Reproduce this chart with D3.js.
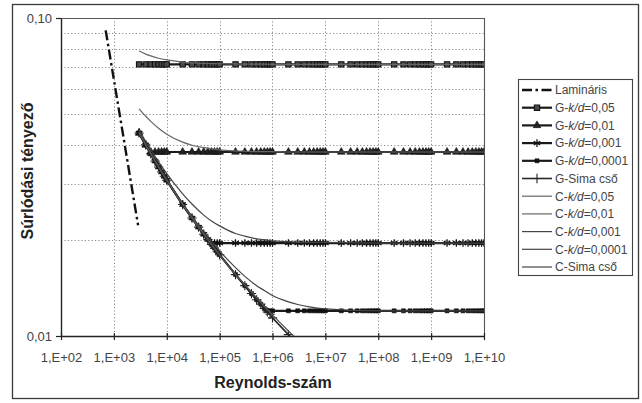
<!DOCTYPE html>
<html>
<head>
<meta charset="utf-8">
<script src="https://cdn.jsdelivr.net/npm/d3@7"></script>
<style>
  body { margin: 0; background: #fff; }
  text { font-family: Arial, "Liberation Sans", sans-serif; }
</style>
</head>
<body>
<svg id="chart" width="642" height="403"></svg>
<script>
// ---- axes ----
const reTicks = [1e2, 1e3, 1e4, 1e5, 1e6, 1e7, 1e8, 1e9, 1e10];
const reTickLabels = ["1,E+02", "1,E+03", "1,E+04", "1,E+05", "1,E+06", "1,E+07", "1,E+08", "1,E+09", "1,E+10"];
const fTicks = [0.01, 0.1];
const fTickLabels = ["0,01", "0,10"];
const fGrid = [0.02, 0.03, 0.04, 0.05, 0.06, 0.07, 0.08, 0.09];

// ---- laminar flow, f = 64/Re ----
const laminarRe = [700, 1000, 1500, 2000, 2500, 2870];
const laminarF  = [0.0914, 0.0640, 0.0427, 0.0320, 0.0256, 0.0223];

// ---- G series: Reynolds numbers 1..9 x 10^n ----
const gRe = [
  3e3, 4e3, 5e3, 6e3, 7e3, 8e3, 9e3,
  1e4, 2e4, 3e4, 4e4, 5e4, 6e4, 7e4, 8e4, 9e4,
  1e5, 2e5, 3e5, 4e5, 5e5, 6e5, 7e5, 8e5, 9e5,
  1e6, 2e6, 3e6, 4e6, 5e6, 6e6, 7e6, 8e6, 9e6,
  1e7, 2e7, 3e7, 4e7, 5e7, 6e7, 7e7, 8e7, 9e7,
  1e8, 2e8, 3e8, 4e8, 5e8, 6e8, 7e8, 8e8, 9e8,
  1e9, 2e9, 3e9, 4e9, 5e9, 6e9, 7e9, 8e9, 9e9,
  1e10
];
const gKd005 = [
  0.0715, 0.0715, 0.0715, 0.0715, 0.0715, 0.0715, 0.0715,
  0.0715, 0.0715, 0.0715, 0.0715, 0.0715, 0.0715, 0.0715, 0.0715, 0.0715,
  0.0715, 0.0715, 0.0715, 0.0715, 0.0715, 0.0715, 0.0715, 0.0715, 0.0715,
  0.0715, 0.0715, 0.0715, 0.0715, 0.0715, 0.0715, 0.0715, 0.0715, 0.0715,
  0.0715, 0.0715, 0.0715, 0.0715, 0.0715, 0.0715, 0.0715, 0.0715, 0.0715,
  0.0715, 0.0715, 0.0715, 0.0715, 0.0715, 0.0715, 0.0715, 0.0715, 0.0715,
  0.0715, 0.0715, 0.0715, 0.0715, 0.0715, 0.0715, 0.0715, 0.0715, 0.0715,
  0.0715
];
const gKd001 = [
  0.0435, 0.0399, 0.0379, 0.0379, 0.0379, 0.0379, 0.0379,
  0.0379, 0.0379, 0.0379, 0.0379, 0.0379, 0.0379, 0.0379, 0.0379, 0.0379,
  0.0379, 0.0379, 0.0379, 0.0379, 0.0379, 0.0379, 0.0379, 0.0379, 0.0379,
  0.0379, 0.0379, 0.0379, 0.0379, 0.0379, 0.0379, 0.0379, 0.0379, 0.0379,
  0.0379, 0.0379, 0.0379, 0.0379, 0.0379, 0.0379, 0.0379, 0.0379, 0.0379,
  0.0379, 0.0379, 0.0379, 0.0379, 0.0379, 0.0379, 0.0379, 0.0379, 0.0379,
  0.0379, 0.0379, 0.0379, 0.0379, 0.0379, 0.0379, 0.0379, 0.0379, 0.0379,
  0.0379
];
const gKd0001 = [
  0.0435, 0.0399, 0.0374, 0.0355, 0.0340, 0.0328, 0.0318,
  0.0309, 0.0259, 0.0235, 0.0220, 0.0209, 0.0201, 0.0196, 0.0196, 0.0196,
  0.0196, 0.0196, 0.0196, 0.0196, 0.0196, 0.0196, 0.0196, 0.0196, 0.0196,
  0.0196, 0.0196, 0.0196, 0.0196, 0.0196, 0.0196, 0.0196, 0.0196, 0.0196,
  0.0196, 0.0196, 0.0196, 0.0196, 0.0196, 0.0196, 0.0196, 0.0196, 0.0196,
  0.0196, 0.0196, 0.0196, 0.0196, 0.0196, 0.0196, 0.0196, 0.0196, 0.0196,
  0.0196, 0.0196, 0.0196, 0.0196, 0.0196, 0.0196, 0.0196, 0.0196, 0.0196,
  0.0196
];
const gKd00001 = [
  0.0435, 0.0399, 0.0374, 0.0355, 0.0340, 0.0328, 0.0318,
  0.0309, 0.0259, 0.0235, 0.0220, 0.0209, 0.0201, 0.0194, 0.0189, 0.0184,
  0.0180, 0.0156, 0.0144, 0.0136, 0.0130, 0.0126, 0.0122, 0.0120, 0.0120,
  0.0120, 0.0120, 0.0120, 0.0120, 0.0120, 0.0120, 0.0120, 0.0120, 0.0120,
  0.0120, 0.0120, 0.0120, 0.0120, 0.0120, 0.0120, 0.0120, 0.0120, 0.0120,
  0.0120, 0.0120, 0.0120, 0.0120, 0.0120, 0.0120, 0.0120, 0.0120, 0.0120,
  0.0120, 0.0120, 0.0120, 0.0120, 0.0120, 0.0120, 0.0120, 0.0120, 0.0120,
  0.0120
];
const gSmooth = [
  0.0435, 0.0399, 0.0374, 0.0355, 0.0340, 0.0328, 0.0318,
  0.0309, 0.0259, 0.0235, 0.0220, 0.0209, 0.0201, 0.0194, 0.0189, 0.0184,
  0.0180, 0.0156, 0.0144, 0.0136, 0.0130, 0.0126, 0.0122, 0.0119, 0.0117,
  0.0114, 0.0101, 0.0094
];

// ---- C series (Colebrook) ----
const cRe = [3e3, 4e3, 5e3, 7e3, 1e4, 2e4, 3e4, 5e4, 7e4, 1e5, 2e5, 3e5, 5e5, 7e5,
             1e6, 2e6, 3e6, 5e6, 1e7, 1e8, 1e9, 1e10];
const cKd005   = [0.0787, 0.0770, 0.0760, 0.0747, 0.0738, 0.0727, 0.0723, 0.0720, 0.0719, 0.0718, 0.0717,
                  0.0716, 0.0716, 0.0716, 0.0715, 0.0715, 0.0715, 0.0715, 0.0715, 0.0715, 0.0715, 0.0715];
const cKd001   = [0.0518, 0.0491, 0.0473, 0.0450, 0.0431, 0.0407, 0.0398, 0.0391, 0.0388, 0.0385, 0.0382,
                  0.0381, 0.0380, 0.0380, 0.0380, 0.0379, 0.0379, 0.0379, 0.0379, 0.0379, 0.0379, 0.0379];
const cKd0001  = [0.0444, 0.0409, 0.0385, 0.0353, 0.0324, 0.0280, 0.0260, 0.0240, 0.0230, 0.0222, 0.0210,
                  0.0206, 0.0202, 0.0201, 0.0199, 0.0198, 0.0197, 0.0197, 0.0197, 0.0196, 0.0196, 0.0196];
const cKd00001 = [0.0436, 0.0400, 0.0375, 0.0342, 0.0311, 0.0261, 0.0238, 0.0212, 0.0198, 0.0185, 0.0164,
                  0.0154, 0.0144, 0.0139, 0.0134, 0.0128, 0.01256, 0.01234, 0.01217, 0.0120, 0.0120, 0.0120];
const cSmooth  = [0.0435, 0.0399, 0.0374, 0.0340, 0.0309, 0.0259, 0.0235, 0.0209, 0.0194, 0.0180, 0.0156,
                  0.0145, 0.0132, 0.0124, 0.01165, 0.01037, 0.00972];

const legendLabels = [
  ["Lamináris"],
  ["G-", "k/d", "=0,05"], ["G-", "k/d", "=0,01"], ["G-", "k/d", "=0,001"], ["G-", "k/d", "=0,0001"],
  ["G-Sima cső"],
  ["C-", "k/d", "=0,05"], ["C-", "k/d", "=0,01"], ["C-", "k/d", "=0,001"], ["C-", "k/d", "=0,0001"],
  ["C-Sima cső"]
];

// ---- layout ----
const svg = d3.select("#chart");
const plot = { left: 61, right: 484, top: 18, bottom: 336 };

const x = d3.scaleLog().domain([1e2, 1e10]).range([plot.left, plot.right]);
const y = d3.scaleLog().domain([0.01, 0.1]).range([plot.bottom, plot.top]);

// outer frame
svg.append("rect")
  .attr("x", 12.5).attr("y", 4.5).attr("width", 626).attr("height", 394)
  .attr("fill", "#fff").attr("stroke", "#3a3a3a").attr("stroke-width", 1.3);

// dotted grid
const grid = svg.append("g").attr("stroke", "#8a8a8a").attr("stroke-width", 1)
  .attr("stroke-dasharray", "1.2,2.2");
grid.selectAll("line.v").data(reTicks.slice(1, -1)).join("line")
  .attr("x1", d => Math.round(x(d)) + 0.5).attr("x2", d => Math.round(x(d)) + 0.5)
  .attr("y1", plot.top).attr("y2", plot.bottom);
grid.selectAll("line.h").data(fGrid).join("line")
  .attr("y1", d => Math.round(y(d)) + 0.5).attr("y2", d => Math.round(y(d)) + 0.5)
  .attr("x1", plot.left).attr("x2", plot.right);

// plot area border
svg.append("path")
  .attr("d", `M${plot.left},${plot.top + 0.5}H${plot.right + 0.5}V${plot.bottom}`)
  .attr("fill", "none").attr("stroke", "#555").attr("stroke-width", 1.1);

// axes
const xAxis = d3.axisBottom(x).tickValues(reTicks)
  .tickFormat((d, i) => reTickLabels[i]).tickSizeInner(4).tickSizeOuter(0).tickPadding(13);
const gx = svg.append("g").attr("transform", `translate(0,${plot.bottom})`).call(xAxis);
gx.select(".domain").attr("stroke", "#222").attr("stroke-width", 1.4);
gx.selectAll(".tick line").attr("stroke", "#222").attr("stroke-width", 1.2).attr("y1", -3);
gx.selectAll(".tick text").attr("font-size", 13).attr("fill", "#444")
  .attr("font-family", "Arial, 'Liberation Sans', sans-serif");

const yAxis = d3.axisLeft(y).tickValues(fTicks)
  .tickFormat((d, i) => fTickLabels[i]).tickSizeInner(5).tickSizeOuter(0).tickPadding(4);
const gy = svg.append("g").attr("transform", `translate(${plot.left},0)`).call(yAxis);
gy.select(".domain").attr("stroke", "#222").attr("stroke-width", 1.4);
gy.selectAll(".tick line").attr("stroke", "#222").attr("stroke-width", 1.2);
gy.selectAll(".tick text").attr("font-size", 13).attr("fill", "#444")
  .attr("font-family", "Arial, 'Liberation Sans', sans-serif");

// axis titles
svg.append("text").attr("x", 273).attr("y", 388).attr("text-anchor", "middle")
  .attr("font-size", 16).attr("font-weight", "bold").attr("fill", "#222")
  .text("Reynolds-szám");
svg.append("text").attr("transform", "translate(33,171) rotate(-90)").attr("text-anchor", "middle")
  .attr("font-size", 16).attr("font-weight", "bold").attr("fill", "#222")
  .text("Súrlódási tényező");

// clip to plot area
svg.append("clipPath").attr("id", "plotClip").append("rect")
  .attr("x", plot.left).attr("y", plot.top)
  .attr("width", plot.right - plot.left).attr("height", plot.bottom - plot.top);
const layer = svg.append("g").attr("clip-path", "url(#plotClip)");

const straight = d3.line().x(d => x(d[0])).y(d => y(d[1]));
const smooth = d3.line().x(d => x(d[0])).y(d => y(d[1])).curve(d3.curveMonotoneX);
const pairs = (re, f) => f.map((v, i) => [re[i], v]);

// series styles
const sq = d3.symbol(d3.symbolSquare, 28)();
const tri = d3.symbol(d3.symbolTriangle, 26)();
const star = d3.symbol(d3.symbolAsterisk, 40)();
const dot = d3.symbol(d3.symbolSquare, 16)();
const plus = d3.symbol(d3.symbolPlus, 30)();

const series = [
  { kind: "lam", re: laminarRe, f: laminarF, stroke: "#111", width: 2.4, dash: "10,3.5,2.5,3.5" },
  { kind: "g", re: gRe, f: gKd005, stroke: "#1a1a1a", width: 2.2,
    marker: sq, mFill: "#4a4a4a", mStroke: "#111", mWidth: 1.1 },
  { kind: "g", re: gRe, f: gKd001, stroke: "#1a1a1a", width: 2.2,
    marker: tri, mFill: "#222", mStroke: "#111", mWidth: 0.6 },
  { kind: "g", re: gRe, f: gKd0001, stroke: "#1a1a1a", width: 2.2,
    marker: star, mFill: "none", mStroke: "#111", mWidth: 1.3 },
  { kind: "g", re: gRe, f: gKd00001, stroke: "#1a1a1a", width: 2.2,
    marker: dot, mFill: "#111", mStroke: "#111", mWidth: 0.6 },
  { kind: "g", re: gRe, f: gSmooth, stroke: "#2a2a2a", width: 1.6,
    marker: plus, mFill: "none", mStroke: "#222", mWidth: 1.1 },
  { kind: "c", re: cRe, f: cKd005, stroke: "#666", width: 1.2 },
  { kind: "c", re: cRe, f: cKd001, stroke: "#666", width: 1.2 },
  { kind: "c", re: cRe, f: cKd0001, stroke: "#444", width: 1.2 },
  { kind: "c", re: cRe, f: cKd00001, stroke: "#444", width: 1.2 },
  { kind: "c", re: cRe, f: cSmooth, stroke: "#555", width: 1.3 }
];

series.forEach(s => {
  const pts = pairs(s.re, s.f);
  layer.append("path")
    .attr("d", (s.kind === "c" ? smooth : straight)(pts))
    .attr("fill", "none").attr("stroke", s.stroke).attr("stroke-width", s.width)
    .attr("stroke-dasharray", s.dash || null).attr("stroke-linejoin", "round");
  if (s.marker) {
    layer.selectAll(null).data(pts.filter(p => p[1] >= 0.01)).join("path")
      .attr("d", s.marker)
      .attr("transform", p => `translate(${x(p[0])},${y(p[1])})`)
      .attr("fill", s.mFill).attr("stroke", s.mStroke).attr("stroke-width", s.mWidth);
  }
});

// legend
const lg = svg.append("g");
lg.append("rect").attr("x", 518.5).attr("y", 79.5).attr("width", 114).attr("height", 196)
  .attr("fill", "#fff").attr("stroke", "#444").attr("stroke-width", 1.1);
legendLabels.forEach((parts, i) => {
  const s = series[i];
  const cy = 90 + i * 17.7;
  lg.append("line").attr("x1", 522).attr("x2", 552).attr("y1", cy).attr("y2", cy)
    .attr("stroke", s.stroke).attr("stroke-width", s.width)
    .attr("stroke-dasharray", s.dash || null);
  if (s.marker) {
    lg.append("path").attr("d", s.marker).attr("transform", `translate(537,${cy})`)
      .attr("fill", s.mFill).attr("stroke", s.mStroke).attr("stroke-width", s.mWidth);
  }
  const t = lg.append("text").attr("x", 555).attr("y", cy + 4.3)
    .attr("font-size", 12).attr("fill", "#444");
  parts.forEach((p, j) => {
    t.append("tspan").attr("font-style", p === "k/d" ? "italic" : null).text(p);
  });
});
</script>
</body>
</html>
